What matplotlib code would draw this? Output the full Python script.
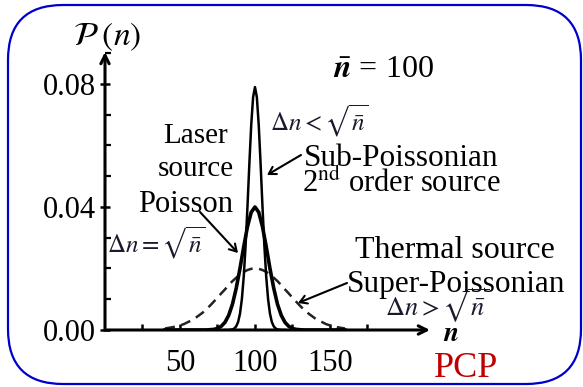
import matplotlib
matplotlib.use("Agg")
import matplotlib.pyplot as plt
from matplotlib.patches import FancyBboxPatch, FancyArrowPatch
from matplotlib.transforms import IdentityTransform
from matplotlib.ticker import MultipleLocator, FixedLocator

plt.rcParams['font.family'] = ['Liberation Serif', 'DejaVu Serif']
plt.rcParams['mathtext.fontset'] = 'stix'

# ---- data ----
n_values = [40, 42.5, 45, 47.5, 50, 52.5, 55, 57.5, 60, 62.5, 65, 67.5, 70, 72.5,
            75, 77.5, 80, 82.5, 85, 87.5, 90, 92.5, 95, 97.5, 100, 102.5, 105,
            107.5, 110, 112.5, 115, 117.5, 120, 122.5, 125, 127.5, 130, 132.5,
            135, 137.5, 140, 142.5, 145, 147.5, 150, 152.5, 155, 157.5, 160]

poisson = [0, 0, 0, 0, 0, 0, 0, 0, 0, 0, 0, 0, 0.0001, 0.0002,
           0.0005, 0.0012, 0.0025, 0.0048, 0.0084, 0.0136, 0.0200, 0.0271,
           0.0336, 0.0383, 0.0400,
           0.0383, 0.0336, 0.0271, 0.0200, 0.0136, 0.0084, 0.0048, 0.0025,
           0.0012, 0.0005, 0.0002, 0.0001, 0, 0, 0, 0, 0, 0, 0, 0,
           0, 0, 0, 0]

thermal = [0.0005, 0.0007, 0.0009, 0.0012, 0.0015, 0.0019, 0.0025, 0.0031,
           0.0038, 0.0047, 0.0056, 0.0067, 0.0079, 0.0092, 0.0105, 0.0119,
           0.0132, 0.0146, 0.0159, 0.0170, 0.0180, 0.0189, 0.0195, 0.0199,
           0.0200,
           0.0199, 0.0195, 0.0189, 0.0180, 0.0170, 0.0159, 0.0146, 0.0132,
           0.0119, 0.0105, 0.0092, 0.0079, 0.0067, 0.0056, 0.0047, 0.0038,
           0.0031, 0.0025, 0.0019, 0.0015, 0.0012, 0.0009, 0.0007, 0.0005]

n_narrow = [80, 81.25, 82.5, 83.75, 85, 86.25, 87.5, 88.75, 90, 91.25, 92.5,
            93.75, 95, 96.25, 97.5, 98.75, 100, 101.25, 102.5, 103.75, 105,
            106.25, 107.5, 108.75, 110, 111.25, 112.5, 113.75, 115, 116.25,
            117.5, 118.75, 120]
sub_poisson = [0, 0, 0, 0.0001, 0.0002, 0.0005, 0.0012, 0.0026, 0.0053,
               0.0100, 0.0173, 0.0275, 0.0402, 0.0540, 0.0667, 0.0757, 0.0790,
               0.0757, 0.0667, 0.0540, 0.0402, 0.0275, 0.0173, 0.0100, 0.0053,
               0.0026, 0.0012, 0.0005, 0.0002, 0.0001, 0, 0, 0]

x_ticks = [25, 50, 75, 100, 125, 150, 175]
x_tick_labels = ['', '50', '', '100', '', '150', '']
y_ticks = [0.00, 0.04, 0.08]
y_tick_labels = ['0.00', '0.04', '0.08']

# ---- figure ----
W, H = 583, 387
fig = plt.figure(figsize=(W / 100, H / 100), dpi=100)


def fpos(x, y):
    return (x / W, 1 - y / H)


# axes: n=0 at px 105, n=216.7 at px 430; P=0 at px 330, P=0.0904 at px 52
ax_l, ax_r, ax_t, ax_b = 105, 430, 52, 330
ax = fig.add_axes([ax_l / W, 1 - ax_b / H, (ax_r - ax_l) / W, (ax_b - ax_t) / H])
ax.set_xlim(0, 216.7)
ax.set_ylim(0, 0.0904)
ax.patch.set_alpha(0)
for s in ax.spines.values():
    s.set_visible(False)

ax.plot(n_values, thermal, color='#222222', lw=1.8, ls=(0, (4, 2.6)))
ax.plot(n_values, poisson, color='black', lw=2.6)
ax.plot(n_narrow, sub_poisson, color='black', lw=1.8)

# axis lines with arrows
for tip in [(0, 1.0), (1.0, 0)]:
    ax.annotate('', xy=tip, xytext=(0, 0), xycoords='axes fraction',
                arrowprops=dict(arrowstyle='->,head_length=0.6,head_width=0.3',
                                lw=2.2, color='black', shrinkA=0, shrinkB=0))

ax.xaxis.set_major_locator(FixedLocator(x_ticks))
ax.set_xticklabels(x_tick_labels)
ax.yaxis.set_major_locator(FixedLocator(y_ticks))
ax.set_yticklabels(y_tick_labels)
ax.yaxis.set_minor_locator(MultipleLocator(0.01))
ax.tick_params(axis='both', which='major', direction='in', length=4, width=1.8,
               labelsize=22, colors='black')
ax.tick_params(axis='y', which='major', direction='inout', length=7, pad=3)
ax.tick_params(axis='y', which='minor', direction='in', length=4, width=1.6)
ax.tick_params(axis='x', which='major', pad=14)

# ---- text annotations ----
def txt(x, y, s, size, ha='left', va='baseline', **kw):
    fig.text(*fpos(x, y), s, fontsize=size, ha=ha, va=va, **kw)


txt(73, 45, r'$\mathcal{P}\;(n)$', 24)
txt(333, 77, r'$\bar{\mathbfit{n}}$ = 100', 23)
txt(196, 143, 'Laser', 21, ha='center')
txt(196, 176, 'source', 21, ha='center')
txt(186, 212, 'Poisson', 22, ha='center')
txt(107, 253, r'$\Delta n = \sqrt{\bar{n}}$', 18, color='#1a1a2e')
txt(270, 131, r'$\Delta n < \sqrt{\bar{n}}$', 18, color='#1a1a2e')
txt(304, 166, 'Sub-Poissonian', 22.5)
txt(302, 192, r'2$^{\mathrm{nd}}$ order source', 22)
txt(355, 258, 'Thermal source', 23)
txt(347, 292, 'Super-Poissonian', 22.5)
txt(385, 316, r'$\Delta n > \sqrt{\bar{n}}$', 19, color='#1a1a2e')
txt(443, 341, r'$\mathbfit{n}$', 20)
txt(434, 377, 'PCP', 26, color='#c00000')


# pointer arrows
def arrow(x0, y0, x1, y1):
    fig.add_artist(FancyArrowPatch(
        fpos(x0, y0), fpos(x1, y1), transform=fig.transFigure,
        arrowstyle='->,head_length=5,head_width=3', lw=1.5, color='black',
        shrinkA=0, shrinkB=0))


arrow(301, 155, 267, 175)
arrow(200, 212, 238, 253)
arrow(347, 283, 298, 303)

# rounded border
border = FancyBboxPatch((8, 3), 573, 379, boxstyle='round,pad=0,rounding_size=55',
                        transform=IdentityTransform(), fill=False,
                        edgecolor='#0000cc', lw=1.6)
fig.patches.append(border)

fig.savefig('out.png', dpi=100)
